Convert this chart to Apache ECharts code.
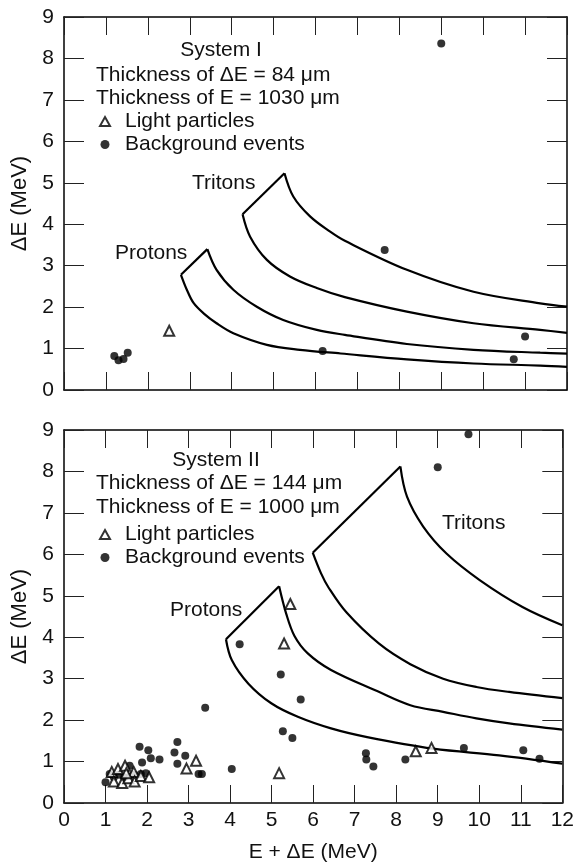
<!DOCTYPE html>
<html>
<head>
<meta charset="utf-8">
<script src="https://cdn.jsdelivr.net/npm/echarts@6/dist/echarts.min.js"></script>
<style>
html, body { margin: 0; padding: 0; background: #fff; }
#chart { width: 577px; height: 865px; }
</style>
</head>
<body>
<div id="chart"></div>
<script>
// ---- System I (upper panel) ----
var s1_light = [[2.51, 1.43]];
var s1_background = [
  [1.2, 0.82], [1.3, 0.72], [1.42, 0.75], [1.52, 0.9],
  [6.17, 0.94], [7.65, 3.38], [9.0, 8.36], [10.73, 0.74], [11.0, 1.29]
];
// first point of each lower curve = left corner, first point of each upper curve = peak
var s1_proton_lower = [[2.79, 2.78], [2.93, 2.42], [3.09, 2.1], [3.33, 1.85], [3.64, 1.61], [4.04, 1.37], [4.84, 1.09], [5.63, 0.97], [6.6, 0.88], [8.18, 0.74], [9.77, 0.64], [11.36, 0.59], [12, 0.56]];
var s1_proton_upper = [[3.42, 3.40], [3.64, 2.90], [4.04, 2.42], [4.6, 2.01], [5.23, 1.69], [6.03, 1.45], [6.7, 1.33], [8.18, 1.11], [9.77, 0.97], [11.36, 0.90], [12, 0.88]];
var s1_triton_lower = [[4.26, 4.24], [4.44, 3.70], [4.84, 3.14], [5.39, 2.74], [6.03, 2.46], [6.7, 2.24], [8.18, 1.89], [9.77, 1.61], [11.36, 1.45], [12, 1.38]];
var s1_triton_upper = [[5.26, 5.23], [5.47, 4.67], [5.87, 4.19], [6.35, 3.82], [6.7, 3.6], [8.18, 2.90], [9.77, 2.37], [11.36, 2.09], [12, 2.01]];

// ---- System II (lower panel) ----
var s2_light = [
  [1.15, 0.75], [1.3, 0.82], [1.47, 0.9], [1.2, 0.52], [1.4, 0.48], [1.55, 0.6],
  [1.68, 0.75], [1.7, 0.52], [1.85, 0.65], [2.05, 0.62], [1.5, 0.72],
  [2.95, 0.83], [3.18, 1.02], [5.18, 0.72], [5.3, 3.85], [5.45, 4.8], [8.47, 1.25], [8.85, 1.33]
];
var s2_background = [
  [1.0, 0.5], [1.1, 0.7], [1.2, 0.62], [1.32, 0.68], [1.45, 0.62], [1.58, 0.9], [1.68, 0.68],
  [1.85, 0.7], [1.97, 0.72], [1.82, 1.36], [2.03, 1.27], [1.88, 0.98], [2.09, 1.08], [2.3, 1.05],
  [2.66, 1.22], [2.73, 1.47], [2.92, 1.14], [2.73, 0.95], [3.24, 0.7], [3.32, 0.7], [3.4, 2.3],
  [4.04, 0.82], [4.23, 3.83], [5.22, 3.1], [5.27, 1.73], [5.5, 1.57], [5.7, 2.5],
  [7.27, 1.2], [7.28, 1.05], [7.45, 0.88], [8.22, 1.05], [9.0, 8.1], [9.74, 8.9],
  [9.63, 1.33], [11.06, 1.27], [11.45, 1.07]
];
var s2_proton_lower = [[3.9, 3.95], [4.04, 3.45], [4.44, 2.88], [5.0, 2.40], [5.63, 2.08], [6.43, 1.80], [7.3, 1.59], [8.89, 1.31], [10.48, 1.15], [12, 0.95]];
var s2_proton_upper = [[5.18, 5.23], [5.35, 4.57], [5.55, 4.03], [5.87, 3.61], [6.43, 3.21], [7.54, 2.7], [8.34, 2.36], [9.13, 2.2], [9.93, 2.04], [10.72, 1.92], [12, 1.77]];
var s2_triton_lower = [[5.99, 6.04], [6.19, 5.54], [6.37, 5.2], [6.8, 4.6], [7.58, 3.85], [8.34, 3.35], [9.13, 3.0], [9.93, 2.80], [10.72, 2.68], [12, 2.53]];
var s2_triton_upper = [[8.1, 8.12], [8.26, 7.39], [8.65, 6.67], [9.21, 6.02], [10.01, 5.38], [11.04, 4.73], [12, 4.29]];

var FONT = '"Liberation Sans", Arial, Helvetica, sans-serif';

var myChart = echarts.init(document.getElementById('chart'));

function xAxes(gi, showLabels) {
  var line = { show: true, onZero: false, lineStyle: { color: '#000', width: 1.5 } };
  var tick = { show: true, inside: true, length: 18, lineStyle: { color: '#222', width: 1 } };
  return [
    {
      gridIndex: gi, type: 'value', position: 'bottom', min: 0, max: 12, interval: 1,
      axisLine: line, axisTick: tick, splitLine: { show: false },
      axisLabel: { show: showLabels, fontSize: 21, color: '#111', fontFamily: FONT, margin: 7 },
      name: showLabels ? 'E + ΔE (MeV)' : '', nameLocation: 'middle', nameGap: 39,
      nameTextStyle: { fontSize: 21, color: '#111', fontFamily: FONT }
    },
    {
      gridIndex: gi, type: 'value', position: 'top', min: 0, max: 12, interval: 1,
      axisLine: line, axisTick: tick, splitLine: { show: false }, axisLabel: { show: false }
    }
  ];
}

function yAxes(gi) {
  var line = { show: true, onZero: false, lineStyle: { color: '#000', width: 1.5 } };
  var tick = { show: true, inside: true, length: 20, lineStyle: { color: '#222', width: 1 } };
  return [
    {
      gridIndex: gi, type: 'value', position: 'left', min: 0, max: 9, interval: 1,
      axisLine: line, axisTick: tick, splitLine: { show: false },
      axisLabel: { fontSize: 21, color: '#111', fontFamily: FONT, margin: 10 },
      name: 'ΔE (MeV)', nameLocation: 'middle', nameGap: 16,
      nameTextStyle: { fontSize: 22, color: '#111', fontFamily: FONT }
    },
    {
      gridIndex: gi, type: 'value', position: 'right', min: 0, max: 9, interval: 1,
      axisLine: line, axisTick: tick, splitLine: { show: false }, axisLabel: { show: false }
    }
  ];
}

function curve(data, xi, yi, smooth) {
  return {
    type: 'line', data: data, xAxisIndex: xi, yAxisIndex: yi,
    smooth: smooth ? 0.35 : false,
    showSymbol: false, silent: true,
    lineStyle: { color: '#000', width: 2.2 }
  };
}

// one band = lower curve + straight left edge + upper curve
function band(lower, upper, xi, yi) {
  return [
    curve(lower, xi, yi, true),
    curve([lower[0], upper[0]], xi, yi, false),
    curve(upper, xi, yi, true)
  ];
}

function points(name, data, xi, yi) {
  var light = name === 'Light particles';
  return {
    name: name, type: 'scatter', data: data, xAxisIndex: xi, yAxisIndex: yi,
    symbol: light ? 'emptyTriangle' : 'circle',
    symbolSize: light ? 10 : 8,
    z: light ? 4 : 3,
    itemStyle: light ? { color: '#000', borderColor: '#000', borderWidth: 1.2 } : { color: '#000' }
  };
}

var series = [].concat(
  band(s1_proton_lower, s1_proton_upper, 0, 0),
  band(s1_triton_lower, s1_triton_upper, 0, 0),
  band(s2_proton_lower, s2_proton_upper, 2, 2),
  band(s2_triton_lower, s2_triton_upper, 2, 2),
  [
    points('Background events', s1_background, 0, 0),
    points('Light particles', s1_light, 0, 0),
    points('Background events', s2_background, 2, 2),
    points('Light particles', s2_light, 2, 2)
  ]
);

function legendAt(top) {
  return {
    orient: 'vertical', left: 94, top: top, itemGap: 2,
    itemWidth: 10, itemHeight: 9,
    data: ['Light particles', 'Background events'],
    selectedMode: false,
    textStyle: { fontSize: 21, color: '#111', fontFamily: FONT, padding: [0, 0, 0, 10] }
  };
}

function txt(x, y, s, align) {
  return {
    type: 'text', x: x, y: y, silent: true,
    style: { text: s, fontSize: 21, fontFamily: FONT, fill: '#111', align: align || 'left', verticalAlign: 'middle' }
  };
}

var option = {
  animation: false,
  backgroundColor: '#fff',
  grid: [
    { left: 64, top: 17, width: 503, height: 373 },
    { left: 64, top: 430, width: 503, height: 373 }
  ],
  xAxis: xAxes(0, false).concat(xAxes(1, true)),
  yAxis: yAxes(0).concat(yAxes(1)),
  legend: [legendAt(106), legendAt(519)],
  graphic: [
    txt(221, 50, 'System I', 'center'),
    txt(96, 75, 'Thickness of ΔE = 84 μm'),
    txt(96, 98, 'Thickness of E = 1030 μm'),
    txt(192, 183, 'Tritons'),
    txt(115, 253, 'Protons'),
    txt(216, 460, 'System II', 'center'),
    txt(96, 483, 'Thickness of ΔE = 144 μm'),
    txt(96, 507, 'Thickness of E = 1000 μm'),
    txt(442, 523, 'Tritons'),
    txt(170, 610, 'Protons')
  ],
  series: series
};

myChart.setOption(option);
</script>
</body>
</html>
